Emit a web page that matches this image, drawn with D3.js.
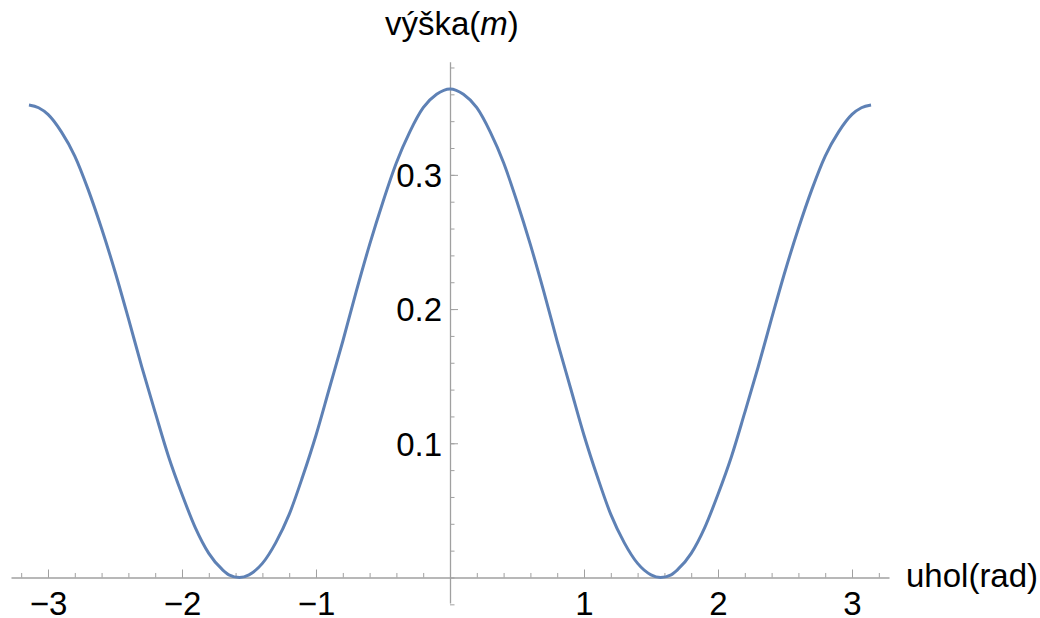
<!DOCTYPE html>
<meta charset="utf-8">
<body>
<script src="https://cdn.jsdelivr.net/npm/d3@7"></script>
<style>
    html, body {
        margin: 0;
        background: #fff;
    }
    text {
        font-family: "Liberation Sans", Arial, sans-serif;
        fill: #000;
    }
</style>
<script>
var width = 1040,
    height = 618;

// angle (rad) and height (m)
var angle = [-3.142, -3.07, -3.0, -2.9, -2.8, -2.7, -2.6, -2.5, -2.4, -2.3, -2.2, -2.1,
    -2.0, -1.9, -1.8, -1.7, -1.65, -1.571, -1.5, -1.4, -1.3, -1.2, -1.1,
    -1.0, -0.9, -0.8, -0.7, -0.6, -0.5, -0.4, -0.3, -0.2, -0.1, 0,
    0.1, 0.2, 0.3, 0.4, 0.5, 0.6, 0.7, 0.8, 0.9, 1.0,
    1.1, 1.2, 1.3, 1.4, 1.5, 1.571, 1.65, 1.7, 1.8, 1.9, 2.0,
    2.1, 2.2, 2.3, 2.4, 2.5, 2.6, 2.7, 2.8, 2.9, 3.0, 3.07, 3.142];
var vyska = [0.352, 0.350, 0.345, 0.332, 0.314, 0.289, 0.260, 0.228, 0.193, 0.157, 0.123, 0.090,
    0.062, 0.037, 0.018, 0.006, 0.002, 0, 0.002, 0.0105, 0.026, 0.047, 0.075,
    0.106, 0.141, 0.176, 0.213, 0.248, 0.280, 0.309, 0.332, 0.350, 0.360, 0.364,
    0.360, 0.350, 0.332, 0.309, 0.280, 0.248, 0.213, 0.176, 0.141, 0.106,
    0.075, 0.047, 0.026, 0.0105, 0.002, 0, 0.002, 0.006, 0.018, 0.037, 0.062,
    0.090, 0.123, 0.157, 0.193, 0.228, 0.260, 0.289, 0.314, 0.332, 0.345, 0.350, 0.352];

var xMajor = [-3, -2, -1, 1, 2, 3],
    xLabels = ["\u22123", "\u22122", "\u22121", "1", "2", "3"],
    xMinor = d3.range(-16, 17).map(function(d) { return d / 5; }),
    yMajor = [0.1, 0.2, 0.3],
    yLabels = ["0.1", "0.2", "0.3"],
    yMinor = d3.range(-1, 20).map(function(d) { return d / 50; });

var x = d3.scaleLinear().domain([-3.276, 3.276]).range([11, 889]),
    y = d3.scaleLinear().domain([-0.019, 0.3843]).range([603, 61.7]);

var svg = d3.select("body").append("svg")
    .attr("width", width)
    .attr("height", height);

var axisColor = "#a0a0a0";

// x axis
var gx = svg.append("g").attr("transform", "translate(0," + y(0) + ")");
gx.call(d3.axisBottom(x).tickValues(xMinor).tickSizeInner(-4.5).tickSizeOuter(0).tickFormat(""));
gx.selectAll("line").attr("stroke", axisColor);
gx.select(".domain").attr("stroke", axisColor).attr("stroke-width", 1.3);

var gx2 = svg.append("g").attr("transform", "translate(0," + y(0) + ")");
gx2.call(d3.axisBottom(x).tickValues(xMajor).tickSizeInner(-8).tickSizeOuter(0).tickPadding(14)
    .tickFormat(function(d, i) { return xLabels[i]; }));
gx2.select(".domain").remove();
gx2.selectAll("line").attr("stroke", axisColor);
gx2.selectAll("text").attr("font-size", 33).attr("fill", "#000")
    .style("font-family", '"Liberation Sans", Arial, sans-serif');

// y axis
var gy = svg.append("g").attr("transform", "translate(" + x(0) + ",0)");
gy.call(d3.axisLeft(y).tickValues(yMinor).tickSizeInner(-4.5).tickSizeOuter(0).tickFormat(""));
gy.selectAll("line").attr("stroke", axisColor);
gy.select(".domain").attr("stroke", axisColor).attr("stroke-width", 1.3);

var gy2 = svg.append("g").attr("transform", "translate(" + x(0) + ",0)");
gy2.call(d3.axisLeft(y).tickValues(yMajor).tickSizeInner(-8).tickSizeOuter(0).tickPadding(8)
    .tickFormat(function(d, i) { return yLabels[i]; }));
gy2.select(".domain").remove();
gy2.selectAll("line").attr("stroke", axisColor);
gy2.selectAll("text").attr("font-size", 33).attr("fill", "#000").attr("dy", "0.36em")
    .style("font-family", '"Liberation Sans", Arial, sans-serif');

// axis labels
svg.append("text")
    .attr("x", 906)
    .attr("y", 587)
    .attr("font-size", 33)
    .text("uhol(rad)");

var yl = svg.append("text")
    .attr("x", 385)
    .attr("y", 35)
    .attr("font-size", 33);
yl.append("tspan").text("výška(");
yl.append("tspan").attr("font-style", "italic").text("m");
yl.append("tspan").text(")");

// curve
var line = d3.line()
    .x(function(d, i) { return x(angle[i]); })
    .y(function(d) { return y(d); })
    .curve(d3.curveMonotoneX);

svg.append("path")
    .datum(vyska)
    .attr("fill", "none")
    .attr("stroke", "#5e81b5")
    .attr("stroke-width", 3)
    .attr("d", line);
</script>
